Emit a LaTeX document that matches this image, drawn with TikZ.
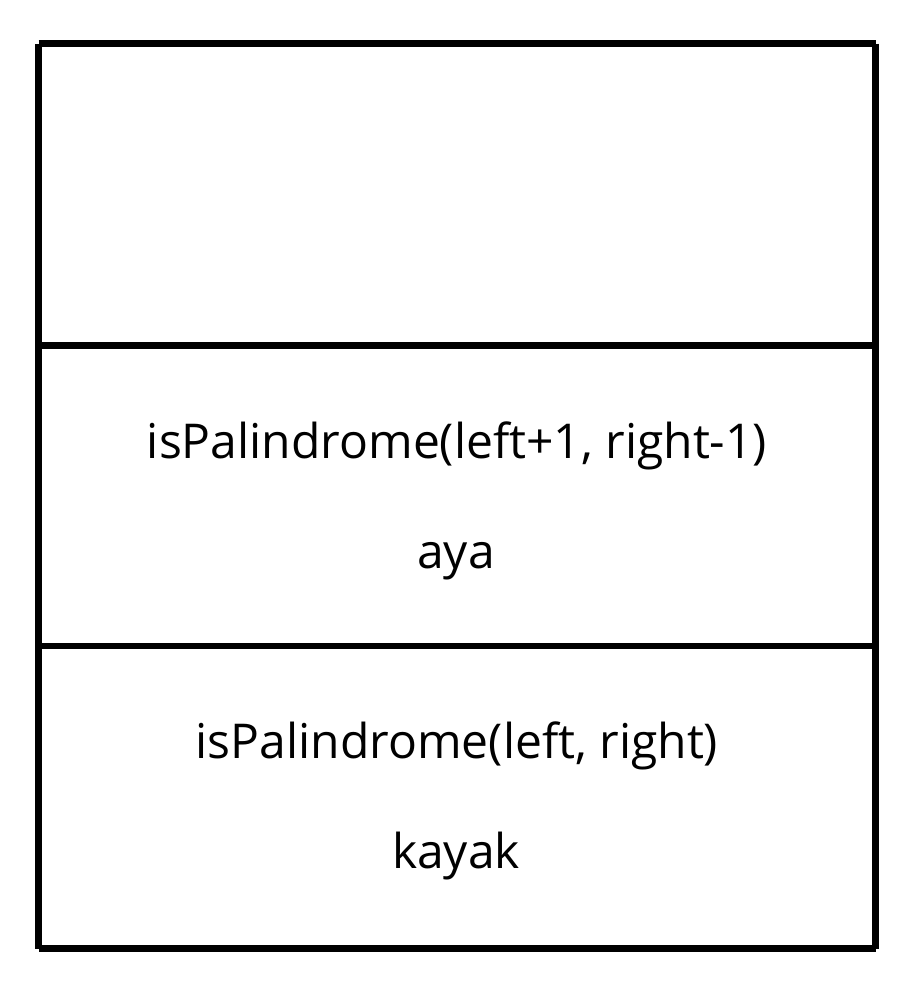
\documentclass[tikz,border=0pt]{standalone}
\usepackage{fontspec}
\setmainfont{Open Sans}
\begin{document}
\begin{tikzpicture}[x=1pt,y=-1pt,
  frame/.style={line width=6.5pt, line cap=butt, black},
  lbl/.style={anchor=base, inner sep=0pt, font=\fontsize{48}{54}\selectfont}]
\useasboundingbox (0,0) rectangle (919,1001);
\coordinate (tl) at (38.5,43.5);
\coordinate (tr) at (875.5,43.5);
\coordinate (bl) at (38.5,948.5);
\coordinate (br) at (875.5,948.5);
\coordinate (d1l) at (38.5,345.5);
\coordinate (d1r) at (875.5,345.5);
\coordinate (d2l) at (38.5,646);
\coordinate (d2r) at (875.5,646);
\draw[frame] (tl) -- (tr);
\draw[frame] (tl) -- (bl);
\draw[frame] (tr) -- (br);
\draw[frame] (bl) -- (br);
\draw[frame] (d1l) -- (d1r);
\draw[frame] (d2l) -- (d2r);
\node[lbl] (f1) at (457,458) {isPalindrome(left+1, right-1)};
\node[lbl] (s1) at (456,568) {aya};
\node[lbl] (f2) at (457,758) {isPalindrome(left, right)};
\node[lbl] (s2) at (456,868) {kayak};
\end{tikzpicture}
\end{document}
